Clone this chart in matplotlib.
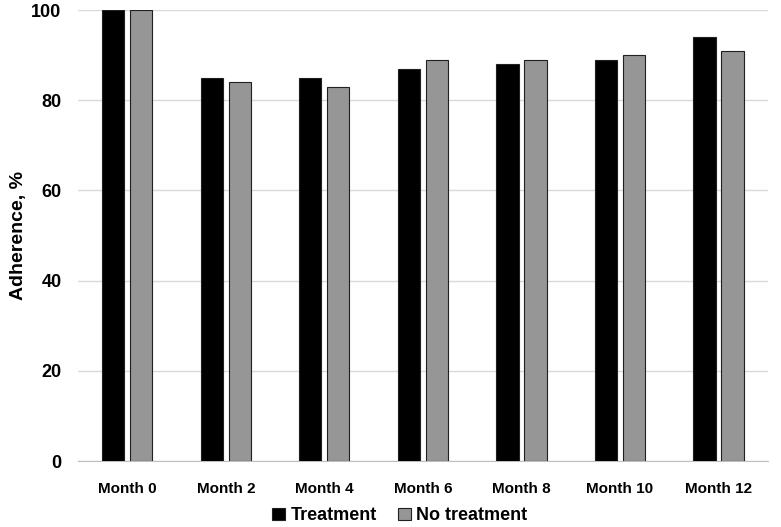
import matplotlib
matplotlib.use("Agg")
import matplotlib.pyplot as plt
import numpy as np

categories = ["Month 0", "Month 2", "Month 4", "Month 6", "Month 8", "Month 10", "Month 12"]
treatment = [100, 85, 85, 87, 88, 89, 94]
no_treatment = [100, 84, 83, 89, 89, 90, 91]
yticks = [0, 20, 40, 60, 80, 100]

plt.rcParams['font.family'] = ['Liberation Sans', 'DejaVu Sans']
plt.rcParams['font.weight'] = 'bold'

fig = plt.figure(figsize=(7.81, 5.27), dpi=100)
ax = fig.add_axes([0.1, 0.125, 0.883, 0.856])

x = np.arange(len(categories))
w = 0.225
off = 0.142
ax.bar(x - off, treatment, w, color='black', edgecolor='#202020', linewidth=0.8, label='Treatment', zorder=3)
ax.bar(x + off, no_treatment, w, color='#969696', edgecolor='#202020', linewidth=0.8, label='No treatment', zorder=3)

ax.set_xlim(-0.5, len(categories) - 0.5)
ax.set_ylim(0, 100)
ax.set_yticks(yticks)
ax.set_yticklabels([str(v) for v in yticks], fontsize=13, fontweight='bold')
ax.set_xticks(x)
ax.set_xticklabels(categories, fontsize=11, fontweight='bold')
ax.tick_params(axis='y', length=0, pad=12)
ax.tick_params(axis='x', length=0, pad=15)
ax.yaxis.grid(True, color='#d9d9d9', linewidth=1, zorder=0)
ax.set_axisbelow(True)
for s in ['top', 'right', 'left']:
    ax.spines[s].set_visible(False)
ax.spines['bottom'].set_color('#bfbfbf')
ax.set_ylabel('Adherence, %', fontsize=14, fontweight='bold', labelpad=3)

leg = fig.legend(loc='center', bbox_to_anchor=(0.512, 0.021), ncol=2, frameon=False,
                 handlelength=0.7, handleheight=0.7, handletextpad=0.3, columnspacing=1.2,
                 prop={'weight': 'bold', 'size': 13})

fig.savefig('out.png', dpi=100)
